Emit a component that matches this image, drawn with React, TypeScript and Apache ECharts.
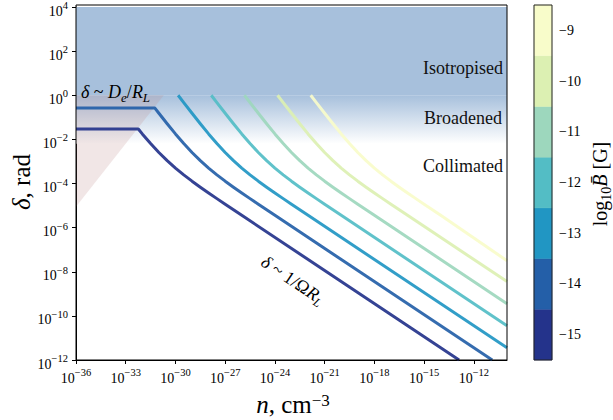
import React, { useEffect, useRef } from "react";
import * as echarts from "echarts";

const SERIF = '"Liberation Serif", "Times New Roman", "DejaVu Serif", serif';

// Axis ticks, as powers of ten
const nTicks = [-36, -33, -30, -27, -24, -21, -18, -15, -12]; // log10 n [cm^-3]
const deltaTicks = [-12, -10, -8, -6, -4, -2, 0, 2, 4]; // log10 δ [rad]

// Colour bar: log10 of the mean field strength
const bLevels = [-15, -14, -13, -12, -11, -10, -9];
const bColors = ["#24338b", "#245fa8", "#2196c3", "#53bdc5", "#9dd7bd", "#dcf0b2", "#f8fcca"];

// Deflection angle per field strength, points are [log10 n, log10 δ]
const curveBm15 = [
  [-36, -1.53], [-32.24, -1.53], [-32, -1.752], [-31.5, -2.188], [-31, -2.594], [-30.5, -2.965],
  [-30, -3.301], [-29.5, -3.608], [-29, -3.894], [-28.5, -4.166], [-28, -4.428], [-27.5, -4.686],
  [-27, -4.94], [-26, -5.443], [-12.89, -12.0],
];
const curveBm14 = [
  [-36, -0.58], [-31.24, -0.58], [-31, -0.816], [-30.5, -1.292], [-30, -1.752], [-29.5, -2.188],
  [-29, -2.594], [-28.5, -2.965], [-28, -3.301], [-27.5, -3.608], [-27, -3.894], [-26.5, -4.166],
  [-26, -4.428], [-25.5, -4.686], [-25, -4.94], [-24, -5.443], [-10.89, -12.0],
];
const curveBm13 = [
  [-29.84, 0], [-29.5, -0.331], [-29, -0.816], [-28.5, -1.292], [-28, -1.752], [-27.5, -2.188],
  [-27, -2.594], [-26.5, -2.965], [-26, -3.301], [-25.5, -3.608], [-25, -3.894], [-24.5, -4.166],
  [-24, -4.428], [-23.5, -4.686], [-23, -4.94], [-22, -5.443], [-10, -11.445],
];
const curveBm12 = [
  [-27.84, 0], [-27.5, -0.331], [-27, -0.816], [-26.5, -1.292], [-26, -1.752], [-25.5, -2.188],
  [-25, -2.594], [-24.5, -2.965], [-24, -3.301], [-23.5, -3.608], [-23, -3.894], [-22.5, -4.166],
  [-22, -4.428], [-21.5, -4.686], [-21, -4.94], [-20, -5.443], [-10, -10.445],
];
const curveBm11 = [
  [-25.84, 0], [-25.5, -0.331], [-25, -0.816], [-24.5, -1.292], [-24, -1.752], [-23.5, -2.188],
  [-23, -2.594], [-22.5, -2.965], [-22, -3.301], [-21.5, -3.608], [-21, -3.894], [-20.5, -4.166],
  [-20, -4.428], [-19.5, -4.686], [-19, -4.94], [-18, -5.443], [-10, -9.445],
];
const curveBm10 = [
  [-23.84, 0], [-23.5, -0.331], [-23, -0.816], [-22.5, -1.292], [-22, -1.752], [-21.5, -2.188],
  [-21, -2.594], [-20.5, -2.965], [-20, -3.301], [-19.5, -3.608], [-19, -3.894], [-18.5, -4.166],
  [-18, -4.428], [-17.5, -4.686], [-17, -4.94], [-16, -5.443], [-10, -8.445],
];
const curveBm9 = [
  [-21.84, 0], [-21.5, -0.331], [-21, -0.816], [-20.5, -1.292], [-20, -1.752], [-19.5, -2.188],
  [-19, -2.594], [-18.5, -2.965], [-18, -3.301], [-17.5, -3.608], [-17, -3.894], [-16.5, -4.166],
  [-16, -4.428], [-15.5, -4.686], [-15, -4.94], [-14, -5.443], [-10, -7.5],
];
const curves = [curveBm15, curveBm14, curveBm13, curveBm12, curveBm11, curveBm10, curveBm9];

// Regime boundaries in log10 δ
const deltaTop = 4;
const isotropisedFloor = 0;
const broadenedFloor = -2.2;

// Wedge where δ ~ D_e / R_L limits the angle, [log10 n, log10 δ]
const wedge = [
  [-36, 0],
  [-30.7, 0],
  [-36, -5.05],
];

// Layout
const PLOT = { left: 76, top: 5, width: 431, height: 355 };
const CBAR = { left: 534, top: 5, width: 18, height: 355 };

const minus = (v: number) => (v < 0 ? "\u2212" + Math.abs(v) : String(v));
const pow10 = (v: number) => `{b|10}{s|${minus(v)}}`;

const tickRich = {
  b: { fontSize: 14, fontFamily: SERIF, color: "#000", lineHeight: 14, padding: [4, 0, 0, 0], verticalAlign: "top" },
  s: { fontSize: 10.5, fontFamily: SERIF, color: "#000", lineHeight: 10.5, verticalAlign: "top" },
};

const txt = (size: number, italic = false) => ({
  fontSize: size,
  fontFamily: SERIF,
  fontStyle: italic ? "italic" : "normal",
  fill: "#000",
  lineHeight: size,
  verticalAlign: "top",
});
const subTxt = (size: number, drop: number, italic = true) => ({
  ...txt(size, italic),
  padding: [drop, 0, 0, 0],
});
const supTxt = (size: number) => ({ ...txt(size), verticalAlign: "top" });

function buildOption() {
  const lineSeries = curves.map((pts, i) => ({
    type: "line",
    name: `B${bLevels[i]}`,
    xAxisIndex: 0,
    yAxisIndex: 0,
    data: pts,
    showSymbol: false,
    symbol: "none",
    silent: true,
    z: 3,
    lineStyle: { color: bColors[i], width: 3, opacity: 0.92, cap: "butt", join: "round" },
  }));

  return {
    animation: false,
    backgroundColor: "#fff",
    grid: [
      { ...PLOT, containLabel: false },
      { ...CBAR, containLabel: false },
    ],
    xAxis: [
      {
        type: "value",
        gridIndex: 0,
        min: -36,
        max: -10,
        axisLine: { show: true, onZero: false, lineStyle: { color: "#000", width: 1 } },
        axisTick: { show: true, customValues: nTicks, length: 4, lineStyle: { color: "#000" } },
        axisLabel: { customValues: nTicks, formatter: pow10, rich: tickRich, margin: 7 },
        splitLine: { show: false },
      },
      { type: "value", gridIndex: 1, min: 0, max: 1, show: false },
    ],
    yAxis: [
      {
        type: "value",
        gridIndex: 0,
        min: -12,
        max: 4,
        interval: 2,
        axisLine: { show: true, onZero: false, lineStyle: { color: "#000", width: 1 } },
        axisTick: { show: true, customValues: deltaTicks, length: 4, lineStyle: { color: "#000" } },
        axisLabel: { customValues: deltaTicks, formatter: pow10, rich: tickRich, margin: 8 },
        splitLine: { show: false },
      },
      {
        type: "value",
        gridIndex: 1,
        position: "right",
        min: -15.5,
        max: -8.5,
        axisLine: { show: false },
        axisTick: { show: true, customValues: bLevels, length: 4, lineStyle: { color: "#000" } },
        axisLabel: {
          customValues: bLevels,
          formatter: (v: number) => minus(v),
          fontSize: 14,
          fontFamily: SERIF,
          color: "#000",
          margin: 7,
        },
        splitLine: { show: false },
      },
    ],
    series: [
      {
        // regime shading
        type: "line",
        xAxisIndex: 0,
        yAxisIndex: 0,
        data: [[-36, deltaTop]],
        symbol: "none",
        lineStyle: { width: 0 },
        silent: true,
        z: 1,
        markArea: {
          silent: true,
          data: [
            [
              { yAxis: isotropisedFloor, itemStyle: { color: "#a7c0dc" } },
              { yAxis: deltaTop },
            ],
            [
              {
                yAxis: broadenedFloor,
                itemStyle: {
                  color: new echarts.graphic.LinearGradient(0, 0, 0, 1, [
                    { offset: 0, color: "#a7c0dc" },
                    { offset: 1, color: "#ffffff" },
                  ]),
                },
              },
              { yAxis: isotropisedFloor },
            ],
          ],
        },
      },
      {
        type: "custom",
        xAxisIndex: 0,
        yAxisIndex: 0,
        z: 2,
        silent: true,
        data: [wedge[0]],
        renderItem: (_p: any, api: any) => ({
          type: "polygon",
          shape: { points: wedge.map((pt) => api.coord(pt)) },
          style: { fill: "rgba(190,140,140,0.22)" },
        }),
      },
      ...lineSeries,
      {
        // colour bar cells
        type: "custom",
        xAxisIndex: 1,
        yAxisIndex: 1,
        silent: true,
        data: bLevels.map((b) => [0.5, b]),
        encode: { x: 0, y: 1 },
        renderItem: (params: any, api: any) => {
          const b = api.value(1);
          const p0 = api.coord([0, b + 0.5]);
          const p1 = api.coord([1, b - 0.5]);
          return {
            type: "rect",
            shape: { x: p0[0], y: p0[1], width: p1[0] - p0[0], height: p1[1] - p0[1] },
            style: { fill: bColors[params.dataIndex], stroke: bColors[params.dataIndex], lineWidth: 0.5 },
          };
        },
      },
    ],
    graphic: [
      {
        type: "rect",
        z: 100,
        silent: true,
        shape: { x: PLOT.left, y: PLOT.top, width: PLOT.width, height: PLOT.height },
        style: { fill: "none", stroke: "#000", lineWidth: 1 },
      },
      {
        type: "rect",
        z: 100,
        silent: true,
        shape: { x: CBAR.left, y: CBAR.top, width: CBAR.width, height: CBAR.height },
        style: { fill: "none", stroke: "#222", lineWidth: 1 },
      },
      {
        type: "text",
        z: 50,
        x: 81,
        y: 92,
        style: {
          text: "{i|δ}{n| ~ }{i|D}{sb|e}{n|/}{i|R}{sb|L}",
          align: "left",
          verticalAlign: "middle",
          rich: { i: txt(18, true), n: txt(18), sb: subTxt(13, 8) },
        },
      },
      {
        type: "text",
        z: 50,
        x: 463,
        y: 68,
        style: { text: "Isotropised", font: `18px ${SERIF}`, fill: "#111", align: "center", verticalAlign: "middle" },
      },
      {
        type: "text",
        z: 50,
        x: 463,
        y: 118,
        style: { text: "Broadened", font: `18px ${SERIF}`, fill: "#111", align: "center", verticalAlign: "middle" },
      },
      {
        type: "text",
        z: 50,
        x: 463,
        y: 166,
        style: { text: "Collimated", font: `18px ${SERIF}`, fill: "#111", align: "center", verticalAlign: "middle" },
      },
      {
        type: "text",
        z: 50,
        x: 293,
        y: 280,
        rotation: (-34 * Math.PI) / 180,
        style: {
          text: "{i|δ}{n| ~ 1/Ω}{i|R}{sb|L}",
          align: "center",
          verticalAlign: "middle",
          rich: { i: txt(18, true), n: txt(18), sb: subTxt(12, 8) },
        },
      },
      {
        type: "text",
        z: 50,
        x: 21,
        y: 182,
        rotation: Math.PI / 2,
        style: {
          text: "{i|δ}{n|, rad}",
          align: "center",
          verticalAlign: "middle",
          rich: { i: txt(25, true), n: txt(25) },
        },
      },
      {
        type: "text",
        z: 50,
        x: 293,
        y: 404,
        style: {
          text: "{i|n}{n|, cm}{sp|\u22123}",
          align: "center",
          verticalAlign: "middle",
          rich: { i: txt(25, true), n: txt(25), sp: supTxt(17) },
        },
      },
      {
        type: "text",
        z: 50,
        x: 600,
        y: 184,
        rotation: Math.PI / 2,
        style: {
          text: "{n|log}{sb|10}{i|B\u0304}{n| [G]}",
          align: "center",
          verticalAlign: "middle",
          rich: { i: txt(20, true), n: txt(20), sb: subTxt(14, 9, false) },
        },
      },
    ],
  };
}

export default function App() {
  const ref = useRef<HTMLDivElement>(null);
  useEffect(() => {
    if (!ref.current) return;
    const chart = echarts.init(ref.current, undefined, { renderer: "svg" });
    chart.setOption(buildOption() as any);
    return () => chart.dispose();
  }, []);
  return (
    <div
      ref={ref}
      style={{ position: "absolute", left: 0, top: 0, width: 613, height: 420, background: "#fff" }}
    />
  );
}
